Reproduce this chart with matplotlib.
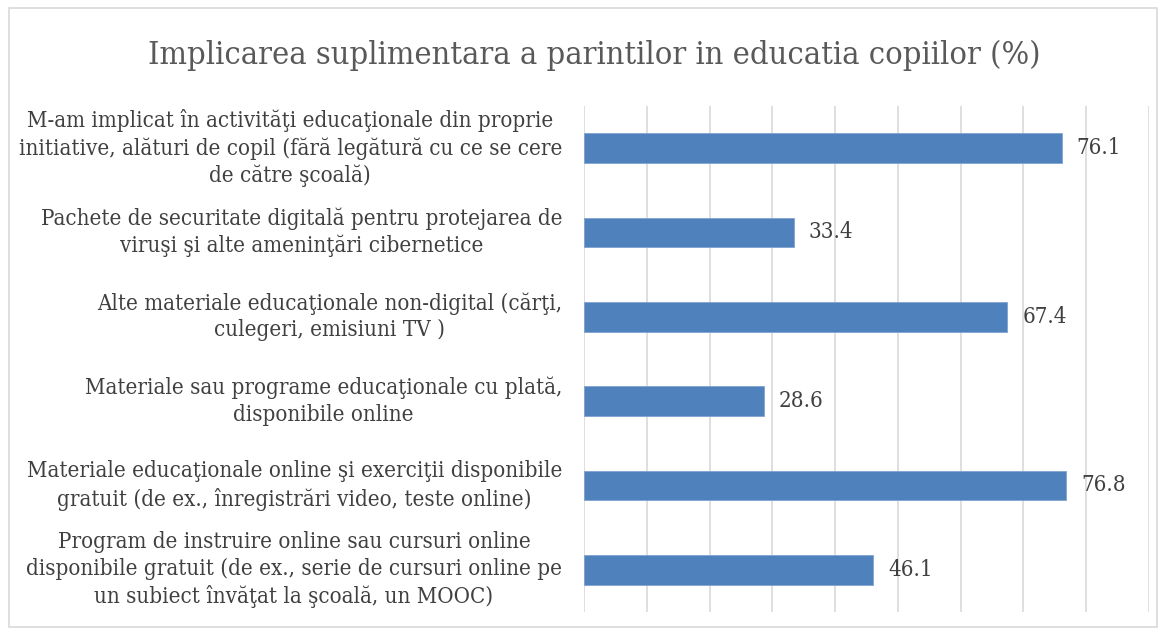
import matplotlib
matplotlib.use('Agg')
import matplotlib.pyplot as plt
from matplotlib.patches import Rectangle

# Implicarea suplimentara a parintilor - horizontal bar chart

categories = [
    'M-am implicat în activităţi educaţionale din proprie\ninitiative, alături de copil (fără legătură cu ce se cere\nde către şcoală)',
    'Pachete de securitate digitală pentru protejarea de\nviruşi şi alte ameninţări cibernetice',
    'Alte materiale educaţionale non-digital (cărţi,\nculegeri, emisiuni TV )',
    'Materiale sau programe educaţionale cu plată,\ndisponibile online',
    'Materiale educaţionale online şi exerciţii disponibile\ngratuit (de ex., înregistrări video, teste online)',
    'Program de instruire online sau cursuri online\ndisponibile gratuit (de ex., serie de cursuri online pe\nun subiect învăţat la şcoală, un MOOC)',
]
values = [76.1, 33.4, 67.4, 28.6, 76.8, 46.1]
title = 'Implicarea suplimentara a parintilor in educatia copiilor (%)'

bar_color = '#4F81BD'
text_color = '#404040'
grid_color = '#D9D9D9'
font = 'DejaVu Serif'

fig = plt.figure(figsize=(11.65, 6.35), dpi=100)
ax = fig.add_axes([0.5013, 0.0362, 0.4850, 0.7970])

ypos = list(range(len(values)))
ax.barh(ypos, values, height=0.35, color=bar_color, edgecolor='#7FA3D0', linewidth=0.6, zorder=3)

for y, v in zip(ypos, values):
    ax.text(v + 2.4, y, f'{v:.1f}', va='center', ha='left', fontsize=16,
            color=text_color, family=font, fontstretch='condensed')

for y, lab in zip(ypos, categories):
    ax.text(-3.5, y, lab, va='center', ha='right', multialignment='center',
            fontsize=16, color=text_color, family=font, fontstretch='condensed',
            linespacing=1.28)

ax.set_xlim(0, 90)
ax.set_ylim(5.5, -0.5)
ax.set_xticks(range(0, 91, 10))
ax.xaxis.grid(True, color=grid_color, linewidth=1.2, zorder=0)
ax.tick_params(left=False, bottom=False, labelleft=False, labelbottom=False)
for s in ax.spines.values():
    s.set_visible(False)

fig.text(0.510, 0.913, title, ha='center', va='center', fontsize=23.3,
         color='#595959', family=font, fontstretch='condensed')

fig.patches.append(Rectangle((0.008, 0.012), 0.985, 0.976, transform=fig.transFigure,
                             fill=False, edgecolor=grid_color, linewidth=1.2))

plt.savefig('out.png', dpi=100)
